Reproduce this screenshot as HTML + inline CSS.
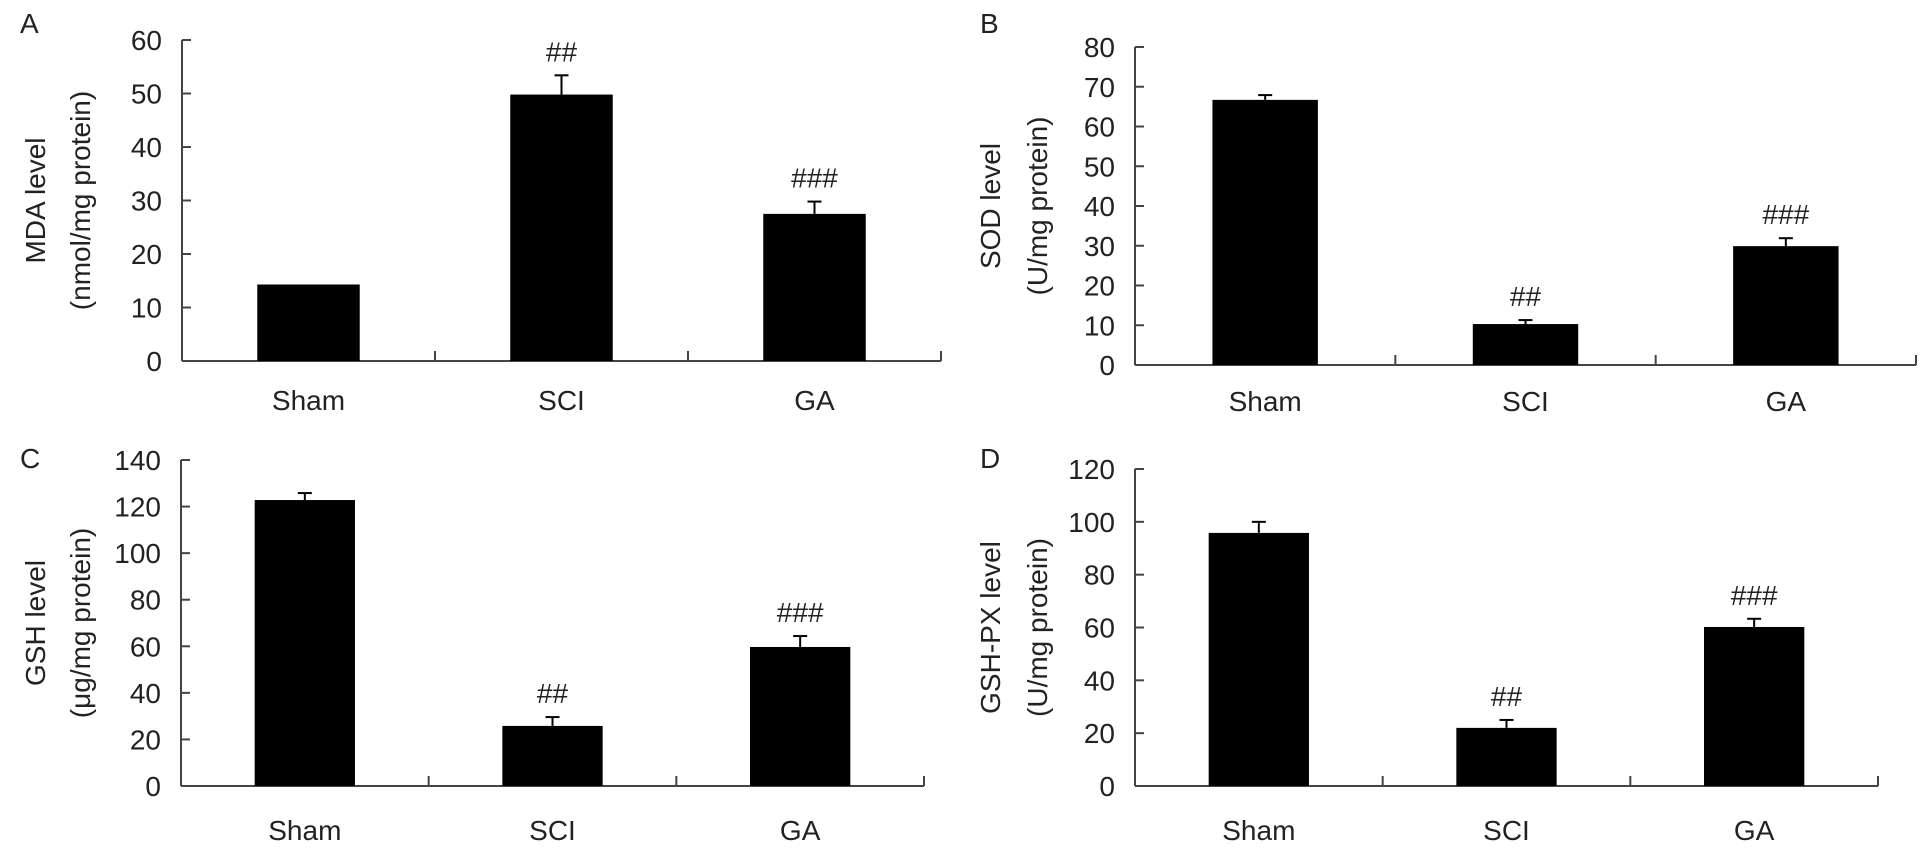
<!DOCTYPE html>
<html><head><meta charset="utf-8">
<style>
html,body{margin:0;padding:0;background:#fff;}
svg{display:block;font-family:"Liberation Sans",Arial,sans-serif;}
</style></head>
<body>
<svg id="fig" width="1930" height="853" viewBox="0 0 1930 853" xmlns="http://www.w3.org/2000/svg"></svg>
<script>
const categories = ["Sham", "SCI", "GA"];
const mdaValues = [14.3, 49.8, 27.5];
const mdaErrors = [0, 3.6, 2.3];
const mdaMarks = ["", "##", "###"];
const sodValues = [66.7, 10.3, 29.9];
const sodErrors = [1.2, 1.0, 2.0];
const sodMarks = ["", "##", "###"];
const gshValues = [122.8, 25.8, 59.7];
const gshErrors = [3.0, 3.8, 4.7];
const gshMarks = ["", "##", "###"];
const gshpxValues = [95.8, 22.0, 60.2];
const gshpxErrors = [4.2, 3.0, 3.1];
const gshpxMarks = ["", "##", "###"];
const mdaTicks = [0, 10, 20, 30, 40, 50, 60];
const sodTicks = [0, 10, 20, 30, 40, 50, 60, 70, 80];
const gshTicks = [0, 20, 40, 60, 80, 100, 120, 140];
const gshpxTicks = [0, 20, 40, 60, 80, 100, 120];

const NS = "http://www.w3.org/2000/svg";
const svg = document.getElementById("fig");
function mk(tag, attrs, parent, text){
  const e = document.createElementNS(NS, tag);
  for (const k in attrs) e.setAttribute(k, attrs[k]);
  if (text !== undefined) e.textContent = text;
  (parent || svg).appendChild(e);
  return e;
}

const panels = [
  {id:"a", letter:"A", lx:20, ly:33, x0:182, x1:941, yTop:40, yBot:361, max:60, ticks:mdaTicks,
   vals:mdaValues, errs:mdaErrors, marks:mdaMarks, t1:"MDA level", t2:"(nmol/mg protein)", tx1:35, tx2:80, labY:410},
  {id:"b", letter:"B", lx:980, ly:33, x0:1135, x1:1916, yTop:47, yBot:365, max:80, ticks:sodTicks,
   vals:sodValues, errs:sodErrors, marks:sodMarks, t1:"SOD level", t2:"(U/mg protein)", tx1:990, tx2:1037, labY:411},
  {id:"c", letter:"C", lx:20, ly:468, x0:181, x1:924, yTop:460, yBot:786, max:140, ticks:gshTicks,
   vals:gshValues, errs:gshErrors, marks:gshMarks, t1:"GSH level", t2:"(\u03bcg/mg protein)", tx1:35, tx2:80, labY:840},
  {id:"d", letter:"D", lx:980, ly:468, x0:1135, x1:1878, yTop:469, yBot:786, max:120, ticks:gshpxTicks,
   vals:gshpxValues, errs:gshpxErrors, marks:gshpxMarks, t1:"GSH-PX level", t2:"(U/mg protein)", tx1:990, tx2:1037, labY:840}
];

panels.forEach(p => {
  const g = mk("g", {});
  
  
  const y = v => p.yBot - (v / p.max) * (p.yBot - p.yTop);
  const cw = (p.x1 - p.x0) / categories.length;
  const cx = i => p.x0 + cw * (i + 0.5);
  const bw = cw * 0.405;

  const letter = mk("text", {x:p.lx, y:p.ly, "font-size":28, fill:"#222"}, g, p.letter);
  
  

  const ya = mk("line", {x1:p.x0, y1:p.yTop, x2:p.x0, y2:p.yBot, stroke:"#444", "stroke-width":2}, g);
  
  
  p.ticks.forEach(t => {
    const ty = y(t);
    const tk = mk("line", {x1:p.x0, y1:ty, x2:p.x0 + 9, y2:ty, stroke:"#444", "stroke-width":2}, g);
    
    
    const tl = mk("text", {x:p.x0 - 20, y:ty + 10, "font-size":28, "text-anchor":"end", fill:"#222"}, g, String(t));
    
    
  });
  const xa = mk("line", {x1:p.x0, y1:p.yBot, x2:p.x1, y2:p.yBot, stroke:"#444", "stroke-width":2}, g);
  
  
  for (let i = 1; i <= categories.length; i++) {
    const xx = p.x0 + cw * i;
    const tk = mk("line", {x1:xx, y1:p.yBot, x2:xx, y2:p.yBot - 10, stroke:"#444", "stroke-width":2}, g);
    
    
  }
  const midY = (p.yTop + p.yBot) / 2;
  const t1 = mk("text", {x:p.tx1 + 10, y:midY, "font-size":28, "text-anchor":"middle", fill:"#222",
    transform:`rotate(-90 ${p.tx1 + 10} ${midY})`}, g, p.t1);
  
  
  const t2 = mk("text", {x:p.tx2 + 10, y:midY, "font-size":28, "text-anchor":"middle", fill:"#222",
    transform:`rotate(-90 ${p.tx2 + 10} ${midY})`}, g, p.t2);
  
  

  categories.forEach((c, i) => {
    const v = p.vals[i], e = p.errs[i];
    const bar = mk("rect", {x:cx(i) - bw / 2, y:y(v), width:bw, height:p.yBot - y(v), fill:"#000"}, g);
    
    
    if (e > 0) {
      const el = mk("line", {x1:cx(i), y1:y(v), x2:cx(i), y2:y(v + e), stroke:"#000", "stroke-width":2}, g);
      
      
      const cap = mk("line", {x1:cx(i) - 7, y1:y(v + e), x2:cx(i) + 7, y2:y(v + e), stroke:"#000", "stroke-width":2}, g);
      
      
    }
    if (p.marks[i]) {
      const m = mk("text", {x:cx(i), y:y(v + e) - 14, "font-size":28, "text-anchor":"middle", fill:"#222"}, g, p.marks[i]);
      
      
    }
    const lab = mk("text", {x:cx(i), y:p.labY, "font-size":28, "text-anchor":"middle", fill:"#222"}, g, c);
    
    
  });
});
</script>
</body></html>
